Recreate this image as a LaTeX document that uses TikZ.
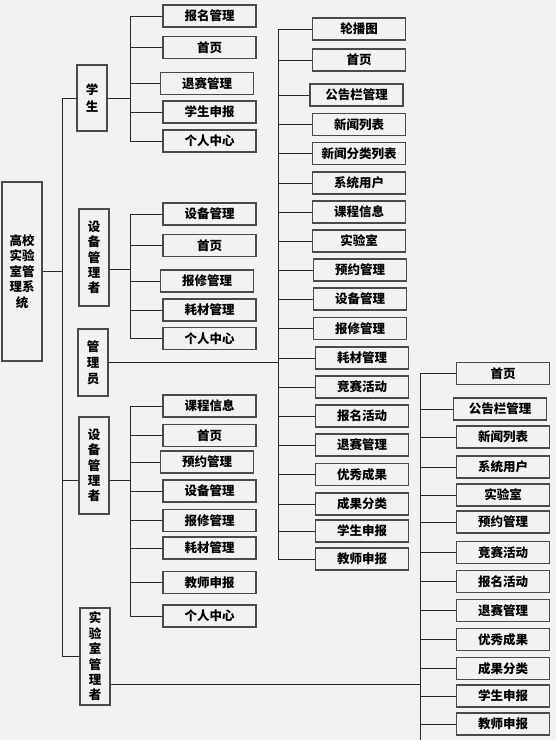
\documentclass[tikz,border=0pt]{standalone}
\usepackage{fontspec}
\setmainfont{Noto Sans CJK SC}
\usetikzlibrary{calc}
\definecolor{bggray}{HTML}{F2F2F2}
\definecolor{framegray}{HTML}{4A4A4A}

\begin{document}
\begin{tikzpicture}[x=1pt, y=-1pt,
  item/.style={draw=framegray, line width=1.2pt, minimum width=93pt, minimum height=22pt, inner sep=0pt, font=\bfseries\fontsize{12.5}{15}\selectfont},
  role/.style={draw=framegray, line width=1.2pt, minimum width=30pt, inner sep=0pt, align=center, font=\bfseries\fontsize{12.5}{15.4}\selectfont},
  link/.style={line width=0.9pt, black!85}]
\fill[bggray] (0,0) rectangle (556,740);
\useasboundingbox (0,0) rectangle (556,740);

\node[role, minimum width=40pt, minimum height=179pt] (root) at (22,271.5) {高校\\实验\\室管\\理系\\统};
\node[role, minimum height=66pt, font=\bfseries\fontsize{12.5}{16.5}\selectfont] (stu) at (92,98) {学\\生};
\node[role, minimum height=97pt] (dev1) at (94,257.5) {设\\备\\管\\理\\者};
\node[role, minimum height=67pt, font=\bfseries\fontsize{12.5}{16}\selectfont] (adm) at (93,362.5) {管\\理\\员};
\node[role, minimum height=97pt] (dev2) at (94,465.5) {设\\备\\管\\理\\者};
\node[role, minimum height=97pt] (lab) at (95,656.5) {实\\验\\室\\管\\理\\者};

\node[item] (s1) at (209.5,16) {报名管理};
\node[item] (s2) at (209.5,47.5) {首页};
\node[item] (s3) at (207,83.5) {退赛管理};
\node[item] (s4) at (209.5,112) {学生申报};
\node[item] (s5) at (209.5,141) {个人中心};

\node[item] (d1) at (209.5,214) {设备管理};
\node[item] (d2) at (209.5,245.5) {首页};
\node[item] (d3) at (207,281) {报修管理};
\node[item] (d4) at (209.5,310) {耗材管理};
\node[item] (d5) at (209.5,338.5) {个人中心};

\node[item] (e1) at (209.5,406) {课程信息};
\node[item] (e2) at (209.5,435.5) {首页};
\node[item] (e3) at (207,462) {预约管理};
\node[item] (e4) at (209.5,491) {设备管理};
\node[item] (e5) at (209.5,520.5) {报修管理};
\node[item] (e6) at (209.5,548) {耗材管理};
\node[item] (e7) at (209.5,582.5) {教师申报};
\node[item] (e8) at (209.5,616) {个人中心};

\node[item] (a1) at (359,29) {轮播图};
\node[item] (a2) at (359,60) {首页};
\node[item] (a3) at (356.5,95) {公告栏管理};
\node[item] (a4) at (359,124.5) {新闻列表};
\node[item] (a5) at (359,153.5) {新闻分类列表};
\node[item] (a6) at (359,183) {系统用户};
\node[item] (a7) at (359,212) {课程信息};
\node[item] (a8) at (359,241) {实验室};
\node[item] (a9) at (360,270) {预约管理};
\node[item] (a10) at (360,299) {设备管理};
\node[item] (a11) at (360,328.5) {报修管理};
\node[item] (a12) at (362,358) {耗材管理};
\node[item] (a13) at (362,387) {竞赛活动};
\node[item] (a14) at (362,416) {报名活动};
\node[item] (a15) at (362,445) {退赛管理};
\node[item] (a16) at (362,474.5) {优秀成果};
\node[item] (a17) at (362,504) {成果分类};
\node[item] (a18) at (362,531) {学生申报};
\node[item] (a19) at (362,559) {教师申报};

\node[item] (l1) at (503,373.5) {首页};
\node[item] (l2) at (500,409) {公告栏管理};
\node[item] (l3) at (503,437) {新闻列表};
\node[item] (l4) at (503,467) {系统用户};
\node[item] (l5) at (503,495) {实验室};
\node[item] (l6) at (503,522) {预约管理};
\node[item] (l7) at (503,552.5) {竞赛活动};
\node[item] (l8) at (503,581.5) {报名活动};
\node[item] (l9) at (503,610.5) {退赛管理};
\node[item] (l10) at (503,639.5) {优秀成果};
\node[item] (l11) at (503,668.5) {成果分类};
\node[item] (l12) at (503,696) {学生申报};
\node[item] (l13) at (503,724) {教师申报};

\coordinate (trunk) at (62,0);
\coordinate (sbus) at (130,0);
\coordinate (abus) at (278,0);
\coordinate (lbus) at (420,0);
\coordinate (lend) at (420,740);
\coordinate (d1out) at ([yshift=-11.5pt]dev1.east);
\coordinate (d2out) at ([yshift=-14.5pt]dev2.east);
\coordinate (labout) at ([yshift=-27.5pt]lab.east);

\draw[link] (root.east) -- (trunk |- root.east);
\draw[link] (trunk |- stu) -- (trunk |- lab);
\draw[link] (trunk |- stu) -- (stu.west);
\draw[link] (trunk |- d2out) -- (dev2.west |- d2out);
\draw[link] (trunk |- lab) -- (lab.west);

\draw[link] (stu.east) -- (sbus |- stu.east);
\draw[link] (sbus |- s1) -- (sbus |- s5);
\draw[link] (sbus |- s1) -- (s1.west);
\draw[link] (sbus |- s2) -- (s2.west);
\draw[link] (sbus |- s3) -- (s3.west);
\draw[link] (sbus |- s4) -- (s4.west);
\draw[link] (sbus |- s5) -- (s5.west);

\draw[link] (d1out) -- (sbus |- d1out);
\draw[link] (sbus |- d1) -- (sbus |- d5);
\draw[link] (sbus |- d1) -- (d1.west);
\draw[link] (sbus |- d2) -- (d2.west);
\draw[link] (sbus |- d3) -- (d3.west);
\draw[link] (sbus |- d4) -- (d4.west);
\draw[link] (sbus |- d5) -- (d5.west);

\draw[link] (d2out) -- (sbus |- d2out);
\draw[link] (sbus |- e1) -- (sbus |- e8);
\draw[link] (sbus |- e1) -- (e1.west);
\draw[link] (sbus |- e2) -- (e2.west);
\draw[link] (sbus |- e3) -- (e3.west);
\draw[link] (sbus |- e4) -- (e4.west);
\draw[link] (sbus |- e5) -- (e5.west);
\draw[link] (sbus |- e6) -- (e6.west);
\draw[link] (sbus |- e7) -- (e7.west);
\draw[link] (sbus |- e8) -- (e8.west);

\draw[link] (adm.east) -- (abus |- adm.east);
\draw[link] (abus |- a1) -- (abus |- a19);
\draw[link] (abus |- a1) -- (a1.west);
\draw[link] (abus |- a2) -- (a2.west);
\draw[link] (abus |- a3) -- (a3.west);
\draw[link] (abus |- a4) -- (a4.west);
\draw[link] (abus |- a5) -- (a5.west);
\draw[link] (abus |- a6) -- (a6.west);
\draw[link] (abus |- a7) -- (a7.west);
\draw[link] (abus |- a8) -- (a8.west);
\draw[link] (abus |- a9) -- (a9.west);
\draw[link] (abus |- a10) -- (a10.west);
\draw[link] (abus |- a11) -- (a11.west);
\draw[link] (abus |- a12) -- (a12.west);
\draw[link] (abus |- a13) -- (a13.west);
\draw[link] (abus |- a14) -- (a14.west);
\draw[link] (abus |- a15) -- (a15.west);
\draw[link] (abus |- a16) -- (a16.west);
\draw[link] (abus |- a17) -- (a17.west);
\draw[link] (abus |- a18) -- (a18.west);
\draw[link] (abus |- a19) -- (a19.west);

\draw[link] (labout) -- (lbus |- labout);
\draw[link] (lbus |- l1) -- (lend);
\draw[link] (lbus |- l1) -- (l1.west);
\draw[link] (lbus |- l2) -- (l2.west);
\draw[link] (lbus |- l3) -- (l3.west);
\draw[link] (lbus |- l4) -- (l4.west);
\draw[link] (lbus |- l5) -- (l5.west);
\draw[link] (lbus |- l6) -- (l6.west);
\draw[link] (lbus |- l7) -- (l7.west);
\draw[link] (lbus |- l8) -- (l8.west);
\draw[link] (lbus |- l9) -- (l9.west);
\draw[link] (lbus |- l10) -- (l10.west);
\draw[link] (lbus |- l11) -- (l11.west);
\draw[link] (lbus |- l12) -- (l12.west);
\draw[link] (lbus |- l13) -- (l13.west);
\end{tikzpicture}
\end{document}
